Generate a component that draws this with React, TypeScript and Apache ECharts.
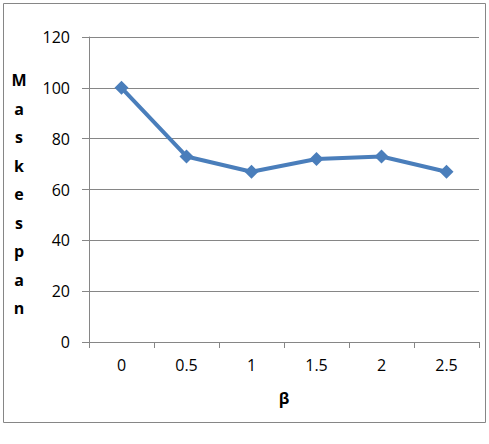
import React, { useEffect, useRef } from "react";
import * as echarts from "echarts";

const categories = ["0", "0.5", "1", "1.5", "2", "2.5"];
const makespan = [100, 73, 67, 72, 73, 67];
const yTicks = { min: 0, max: 120, interval: 20 };
const yTitle = "Maskespan";
const xTitle = "β";

export default function App() {
  const ref = useRef<HTMLDivElement>(null);
  useEffect(() => {
    const chart = echarts.init(ref.current!, undefined, { renderer: "svg" });
    const font = "'Open Sans', 'Liberation Sans', sans-serif";
    const letters = yTitle.split("").map((ch, i) => ({
      type: "text",
      x: 19,
      y: 80 + i * 28.5,
      style: {
        text: ch,
        fontSize: 16,
        fontWeight: "bold",
        fontFamily: font,
        fill: "#000",
        align: "center",
        verticalAlign: "middle",
      },
    }));
    chart.setOption({
      animation: false,
      backgroundColor: "#fff",
      grid: { left: 89, right: 10, top: 37, bottom: 102, containLabel: false },
      xAxis: {
        type: "category",
        data: categories,
        boundaryGap: true,
        axisLine: { lineStyle: { color: "#868686", width: 1 } },
        axisTick: { show: true, length: 6, lineStyle: { color: "#868686" } },
        axisLabel: { color: "#000", fontSize: 16, fontFamily: font, margin: 15 },
        splitLine: { show: false },
      },
      yAxis: {
        type: "value",
        min: yTicks.min,
        max: yTicks.max,
        interval: yTicks.interval,
        axisLine: { show: true, lineStyle: { color: "#868686", width: 1 } },
        axisTick: { show: true, length: 7, lineStyle: { color: "#868686" } },
        axisLabel: { color: "#000", fontSize: 16, fontFamily: font, margin: 19 },
        splitLine: { show: true, lineStyle: { color: "#868686", width: 1 } },
      },
      graphic: [
        {
          type: "rect",
          shape: { x: 3.5, y: 3.5, width: 482, height: 419 },
          style: { fill: "none", stroke: "#868686", lineWidth: 1 },
          silent: true,
        },
        ...letters,
        {
          type: "text",
          x: 284,
          y: 398,
          style: {
            text: xTitle,
            fontSize: 16,
            fontWeight: "bold",
            fontFamily: font,
            fill: "#000",
            align: "center",
            verticalAlign: "middle",
          },
        },
      ],
      series: [
        {
          type: "line",
          data: makespan,
          symbol: "diamond",
          symbolSize: 14,
          lineStyle: { color: "#4A7EBB", width: 4 },
          itemStyle: { color: "#4A7EBB" },
        },
      ],
    });
    return () => chart.dispose();
  }, []);
  return (
    <div
      ref={ref}
      style={{ position: "fixed", left: 0, top: 0, width: 489, height: 444 }}
    />
  );
}
